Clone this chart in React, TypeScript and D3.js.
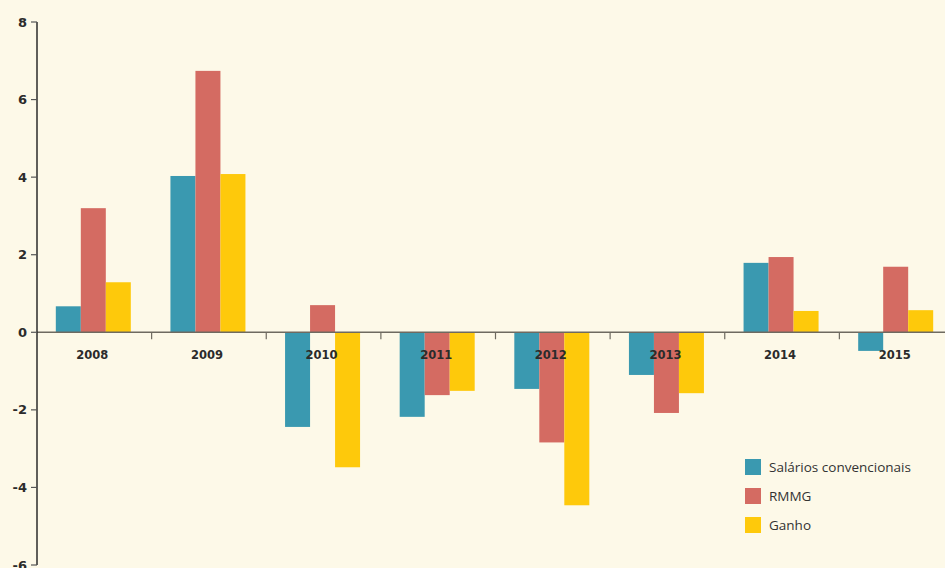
import { useEffect, useRef } from 'react'
import * as d3 from 'd3'

const WIDTH = 945
const HEIGHT = 568
const MARGIN = { top: 22, right: -9, bottom: 3, left: 37 }

const years = ['2008', '2009', '2010', '2011', '2012', '2013', '2014', '2015']
const seriesNames = ['Salários convencionais', 'RMMG', 'Ganho']
const salarios = [0.67, 4.03, -2.44, -2.18, -1.46, -1.1, 1.79, -0.48]
const rmmg = [3.2, 6.74, 0.7, -1.62, -2.84, -2.08, 1.94, 1.69]
const ganho = [1.29, 4.08, -3.48, -1.51, -4.46, -1.57, 0.55, 0.57]
const colors = ['#3a99b0', '#d46b62', '#fec90b']
const yTicks = [8, 6, 4, 2, 0, -2, -4, -6]

export default function App() {
  const svgRef = useRef<SVGSVGElement>(null)

  useEffect(() => {
    if (!svgRef.current) return
    const svg = d3.select(svgRef.current)
    svg.selectAll('*').remove()

    const innerW = WIDTH - MARGIN.left - MARGIN.right
    const innerH = HEIGHT - MARGIN.top - MARGIN.bottom

    const data = years.map((year, i) => ({
      year,
      values: [salarios[i], rmmg[i], ganho[i]],
    }))

    const x0 = d3.scaleBand().domain(years).range([0, innerW]).padding(0)
    const y = d3.scaleLinear().domain([-6, 8]).range([innerH, 0])
    const groupW = 75
    const x1 = d3.scaleBand<number>().domain([0, 1, 2]).range([0, groupW])

    svg.append('rect').attr('width', WIDTH).attr('height', HEIGHT).attr('fill', '#fdf9e8')

    const g = svg.append('g').attr('transform', `translate(${MARGIN.left},${MARGIN.top})`)

    // Bars
    const groups = g.selectAll('g.year')
      .data(data)
      .enter()
      .append('g')
      .attr('class', 'year')
      .attr('transform', d => `translate(${x0(d.year)! + (x0.bandwidth() - groupW) / 2 - 1},0)`)

    groups.selectAll('rect')
      .data(d => d.values.map((v, i) => ({ v, i })))
      .enter()
      .append('rect')
      .attr('x', d => x1(d.i)!)
      .attr('width', x1.bandwidth())
      .attr('y', d => y(Math.max(0, d.v)))
      .attr('height', d => Math.abs(y(d.v) - y(0)))
      .attr('fill', d => colors[d.i])

    // X axis at zero
    const xAxis = g.append('g').attr('transform', `translate(0,${y(0)})`)
    xAxis.append('line')
      .attr('x1', 0).attr('x2', innerW)
      .attr('stroke', '#6e6a60').attr('stroke-width', 1.5)
    xAxis.selectAll('line.tick')
      .data(years.slice(1))
      .enter()
      .append('line')
      .attr('class', 'tick')
      .attr('x1', d => x0(d)!).attr('x2', d => x0(d)!)
      .attr('y1', 0).attr('y2', 7)
      .attr('stroke', '#6e6a60').attr('stroke-width', 1.2)
    xAxis.selectAll('text')
      .data(years)
      .enter()
      .append('text')
      .attr('x', d => x0(d)! + x0.bandwidth() / 2 - 2)
      .attr('y', 27)
      .attr('text-anchor', 'middle')
      .attr('font-family', '"DejaVu Sans", sans-serif')
      .attr('font-weight', 'bold')
      .attr('font-size', 11.5)
      .attr('fill', '#2b2b2b')
      .text(d => d)

    // Y axis
    const yAxis = g.append('g')
    yAxis.append('line')
      .attr('y1', y(8)).attr('y2', y(-6))
      .attr('stroke', '#2b2b2b').attr('stroke-width', 1.5)
    yAxis.selectAll('line.tick')
      .data(yTicks)
      .enter()
      .append('line')
      .attr('class', 'tick')
      .attr('x1', -6).attr('x2', 0)
      .attr('y1', d => y(d)).attr('y2', d => y(d))
      .attr('stroke', '#555').attr('stroke-width', 1.2)
    yAxis.selectAll('text')
      .data(yTicks)
      .enter()
      .append('text')
      .attr('x', -10)
      .attr('y', d => y(d))
      .attr('dy', '0.35em')
      .attr('text-anchor', 'end')
      .attr('font-family', '"DejaVu Sans", sans-serif')
      .attr('font-weight', 'bold')
      .attr('font-size', 13)
      .attr('fill', '#2b2b2b')
      .text(d => d)

    // Legend
    const legend = svg.append('g').attr('transform', 'translate(745,459)')
    seriesNames.forEach((name, i) => {
      const row = legend.append('g').attr('transform', `translate(0,${i * 29})`)
      row.append('rect').attr('width', 16).attr('height', 16).attr('fill', colors[i])
      row.append('text')
        .attr('x', 24)
        .attr('y', 8)
        .attr('dy', '0.35em')
        .attr('font-family', '"Open Sans", sans-serif')
        .attr('font-size', 13.5)
        .attr('fill', '#333')
        .text(name)
    })
  }, [])

  return (
    <svg
      ref={svgRef}
      width={WIDTH}
      height={HEIGHT}
      style={{ position: 'absolute', left: 0, top: 0, display: 'block' }}
    />
  )
}
